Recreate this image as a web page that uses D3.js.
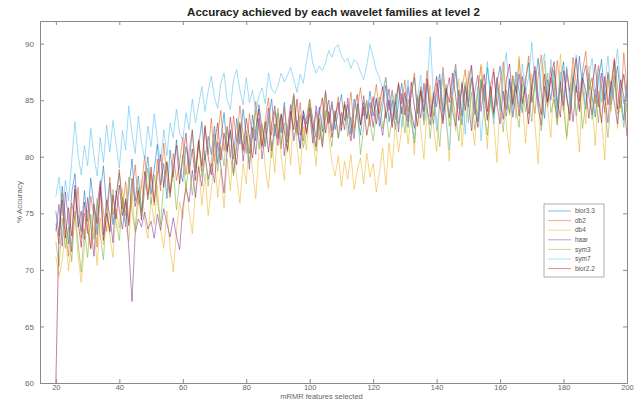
<!DOCTYPE html>
<html><head><meta charset="utf-8">
<script src="https://cdn.jsdelivr.net/npm/d3@7"></script>
<style>body{margin:0;background:#fff}svg{display:block}</style>
</head><body><svg id="c" width="639" height="400"></svg>
<script>
const title = "Accuracy achieved by each wavelet families at level 2";
const xLabel = "mRMR features selected";
const yLabel = "% Accuracy";
const xTicks = [20,40,60,80,100,120,140,160,180,200];
const yTicks = [60,65,70,75,80,85,90];
const seriesNames = ["bior3.3","db2","db4","haar","sym3","sym7","bior2.2"];
const seriesColors = ["#0072bd","#d95319","#edb120","#7e2f8e","#77ac30","#4dbeee","#a2142f"];
const features = d3.range(20, 201);

const bior33 = [75.2,73.0,77.4,74.6,72.3,76.8,78.5,74.9,73.4,77.0,
74.3,78.1,75.6,73.1,76.9,79.2,75.4,77.7,74.0,76.5,
78.6,75.9,73.8,77.2,79.8,76.1,78.3,75.2,77.9,80.0,
76.7,78.9,81.1,77.5,79.4,76.3,80.6,78.2,81.5,79.0,
77.8,80.9,79.3,82.4,78.6,81.0,83.1,79.7,81.8,80.2,
82.7,79.4,81.5,83.9,80.6,82.2,79.8,83.4,81.1,84.2,
82.0,80.3,83.7,81.4,84.6,82.5,80.9,83.2,85.1,81.8,
83.9,82.1,84.8,81.3,83.5,85.4,82.6,80.8,84.1,82.9,
85.0,83.3,81.7,84.4,82.2,85.7,83.0,84.9,82.4,84.0,
85.5,83.2,84.6,82.0,85.1,83.7,81.9,84.8,83.4,85.8,
83.6,85.2,82.7,84.5,86.3,83.1,85.0,82.4,84.8,86.5,
84.1,82.6,85.6,87.0,83.8,85.9,83.2,86.4,84.5,82.9,
85.8,87.3,84.0,86.1,83.5,85.4,87.6,84.7,82.8,86.2,
84.4,87.0,85.2,83.1,86.8,84.9,87.9,85.5,83.7,86.5,
88.0,85.3,83.6,86.7,84.5,87.5,85.8,83.9,86.9,88.3,
84.8,86.4,88.7,85.6,83.4,86.8,85.0,87.7,84.3,86.6,
88.4,85.1,83.8,87.2,85.7,88.9,86.0,84.2,87.4,85.3,
83.5,86.9,88.6,85.0,87.3,84.6,86.2,88.0,85.4,83.2,
86.5];
const db2 = [74.1,72.3,76.8,73.5,71.2,75.9,74.4,77.3,72.8,75.0,
73.2,76.5,74.7,72.0,77.6,75.1,73.4,78.2,74.9,76.3,
78.9,75.4,77.8,74.2,76.7,79.3,75.8,77.4,80.1,76.6,
78.5,75.7,79.8,77.0,81.2,78.1,76.4,80.3,77.9,79.5,
81.7,78.4,80.6,82.3,79.0,81.5,78.7,82.8,80.2,83.4,
79.6,81.9,84.1,80.5,82.7,79.9,83.6,81.3,84.5,82.0,
80.3,83.8,81.6,84.9,82.4,80.8,83.3,85.2,81.9,84.0,
82.6,80.7,84.4,81.8,83.9,85.6,82.1,84.8,81.4,83.5,
85.1,82.3,84.0,81.5,83.7,85.9,82.9,84.6,83.1,85.3,
82.8,84.9,83.4,85.7,82.5,84.2,86.1,83.6,85.0,82.7,
84.5,86.4,83.8,85.2,87.0,84.1,85.9,83.3,86.6,84.7,
86.8,84.0,85.5,87.4,83.9,86.2,84.8,87.6,85.1,83.6,
86.5,84.3,87.9,85.0,83.4,86.7,88.2,84.6,86.0,87.7,
84.9,86.9,83.7,85.8,88.0,85.4,83.2,86.3,87.8,84.5,
86.6,88.4,85.1,83.9,87.2,85.7,88.6,84.8,86.4,88.9,
85.5,83.8,87.1,89.0,86.0,84.4,87.9,85.3,88.5,86.2,
84.1,87.3,85.8,88.8,86.5,84.2,87.6,89.3,85.9,87.0,
84.7,88.1,86.3,83.9,87.5,85.6,88.7,86.1,84.3,89.2,
86.0];
const db4 = [71.2,69.4,70.8,73.5,69.9,72.6,74.8,71.3,68.9,72.1,
75.3,71.8,73.9,70.4,74.6,72.2,76.1,73.0,71.1,75.4,
73.7,77.2,74.1,72.5,76.8,73.3,75.9,78.0,74.4,72.8,
76.3,74.0,77.5,73.6,71.9,75.2,72.0,69.8,73.4,76.0,
74.5,77.8,75.1,73.2,76.9,79.3,75.7,78.5,74.8,77.1,
80.2,76.4,78.9,75.5,79.8,77.0,81.3,78.1,75.9,79.4,
77.6,81.9,78.7,76.3,80.5,82.8,79.0,77.2,81.4,78.6,
83.5,80.1,77.9,82.2,79.3,84.4,81.0,78.4,82.7,80.6,
84.9,81.6,79.2,83.3,80.8,85.2,82.0,79.5,78.3,80.1,
77.4,79.6,78.0,80.2,77.1,78.8,79.9,77.6,80.3,78.2,
79.4,76.9,78.6,80.8,77.5,81.2,79.0,83.1,80.4,82.5,
84.6,81.1,83.8,80.2,85.5,82.4,79.8,84.1,86.3,82.7,
80.5,84.8,87.0,83.2,79.6,85.7,82.3,86.9,80.9,84.0,
87.6,83.5,81.0,85.9,88.2,84.3,80.7,86.6,83.1,79.5,
84.7,87.8,82.6,80.3,86.0,83.4,88.9,85.1,81.2,84.9,
87.3,82.8,79.4,85.6,88.5,84.2,81.7,86.8,83.0,89.1,
85.3,81.5,84.6,87.9,83.7,80.4,86.3,82.9,88.0,84.5,
81.0,85.8,83.2,79.7,86.9,84.0,88.3,82.5,85.6,87.2,
83.9];
const haar = [73.4,75.8,72.1,76.9,74.3,71.6,77.5,73.8,75.2,72.7,
76.4,74.0,71.2,75.6,77.9,73.1,76.2,74.8,72.4,77.0,
75.3,73.6,76.1,71.8,67.2,73.2,74.5,73.8,75.1,73.6,
74.3,72.8,74.9,73.5,75.4,74.1,72.9,74.6,73.0,71.8,
75.5,77.2,76.0,78.8,76.4,79.1,77.4,80.2,78.0,79.4,
77.7,81.3,79.1,76.8,80.7,82.4,78.5,80.9,83.0,79.6,
81.8,78.9,82.6,80.2,83.4,79.8,82.1,84.3,80.5,82.9,
81.0,83.7,80.1,82.5,84.6,81.4,83.2,80.7,84.0,82.2,
83.8,81.2,84.5,82.7,80.9,83.6,85.0,82.3,84.1,81.7,
83.9,82.4,85.2,83.0,81.6,84.7,82.8,85.4,83.3,84.8,
82.6,85.1,83.5,81.9,84.3,86.0,83.1,84.9,82.2,85.6,
83.7,86.2,84.0,82.5,85.3,83.4,86.5,84.2,82.8,85.7,
84.4,86.8,83.2,85.5,87.0,84.1,82.7,85.9,83.6,86.3,
84.8,82.3,85.7,87.2,84.0,86.4,83.3,85.1,87.5,84.6,
82.9,85.8,84.2,86.9,83.5,85.4,87.3,84.7,86.1,83.8,
85.9,87.6,84.3,82.8,86.2,84.9,87.0,85.2,83.4,86.6,
84.5,87.8,85.6,83.1,86.3,84.0,86.9,88.1,85.3,83.7,
86.0,84.4,87.4,85.2,83.0,86.7,84.8,82.9,85.9,87.3,
85.0];
const sym3 = [72.5,70.3,74.6,71.9,73.8,70.7,75.2,72.4,69.8,73.6,
71.1,74.9,72.7,76.3,73.0,70.9,75.5,73.3,77.1,74.2,
72.6,76.4,74.8,78.2,75.1,73.5,77.3,74.7,76.9,79.0,
75.8,78.4,76.2,74.0,77.7,79.6,76.5,78.8,75.3,77.9,
80.2,77.1,79.4,76.6,78.9,81.3,78.2,80.5,77.4,79.7,
82.0,78.7,80.9,79.2,82.6,80.0,78.3,81.7,83.1,80.4,
82.3,79.5,81.8,84.0,80.7,82.9,81.2,83.6,79.9,82.4,
84.3,81.1,83.0,80.4,82.8,85.0,81.9,83.7,80.8,82.2,
84.6,82.0,80.5,83.4,81.3,84.1,82.7,80.9,83.9,81.6,
82.9,84.7,81.8,83.5,82.1,84.4,80.2,82.6,84.8,83.1,
81.4,83.8,85.3,82.5,84.0,81.7,83.2,85.6,82.9,84.4,
82.1,85.1,83.5,81.2,84.7,86.0,82.8,84.3,81.6,85.4,
83.3,80.9,84.9,86.4,82.7,85.2,83.6,81.4,84.6,86.6,
83.0,85.7,82.4,84.1,86.9,83.8,81.9,85.0,83.4,86.2,
84.5,82.2,85.9,83.7,87.1,84.3,82.6,86.4,84.0,85.5,
83.1,86.7,84.8,82.3,85.6,87.4,83.9,85.1,82.8,86.0,
84.2,81.8,85.4,87.0,83.6,85.8,82.5,84.7,86.8,83.3,
85.5,83.0,86.3,84.1,81.7,85.0,87.2,83.8,84.9,82.6,
84.8];
const sym7 = [76.5,78.2,74.8,77.9,76.1,79.6,83.1,80.2,78.4,81.0,
79.2,82.5,80.1,78.3,81.7,79.5,82.8,80.4,83.2,81.1,
79.0,82.3,80.6,84.5,82.0,80.3,83.6,81.2,79.8,82.7,
80.9,83.8,81.5,79.6,82.4,80.1,83.0,81.7,84.2,82.1,
81.5,83.9,82.4,85.1,83.0,84.6,86.2,84.0,85.8,87.1,
85.2,84.3,86.5,87.4,85.0,84.2,86.8,87.7,85.9,84.6,
87.0,84.8,85.9,83.9,85.4,86.1,84.7,87.4,86.0,85.6,
86.3,87.4,86.6,87.2,87.9,86.8,85.7,87.3,86.5,88.4,
90.1,88.2,87.4,88.0,87.6,88.3,89.4,88.8,89.6,89.9,
88.9,88.4,88.7,87.8,88.6,88.3,87.5,86.8,88.1,89.9,
88.8,87.6,87.0,85.9,87.0,84.2,85.8,83.5,86.4,82.6,
84.9,86.8,83.1,81.5,85.3,87.2,84.0,86.1,90.6,85.2,
82.3,84.7,87.5,83.4,80.6,85.9,88.1,84.2,86.7,82.0,
85.4,87.9,83.7,86.2,81.4,84.8,88.4,85.1,82.9,86.5,
84.1,87.3,89.2,85.0,83.6,86.9,84.4,88.2,85.7,87.0,
90.1,86.3,84.5,87.8,89.1,85.4,88.6,86.0,83.9,87.5,
85.2,88.0,84.6,86.8,89.0,85.9,87.4,84.3,86.9,88.7,
85.6,87.9,84.8,86.4,88.9,85.3,87.2,89.5,86.1,84.7,
86.2];
const bior22 = [60.0,73.6,76.2,72.8,75.5,73.0,77.1,74.3,72.0,76.0,
73.7,71.9,75.8,74.1,77.3,72.6,75.0,73.4,76.6,74.5,
77.5,74.8,76.3,73.9,78.1,75.6,77.0,74.4,78.7,76.2,
79.1,76.0,78.4,80.2,77.3,79.5,76.8,78.9,81.0,77.6,
79.8,82.1,78.5,80.7,77.9,81.4,79.2,82.6,80.0,78.4,
81.2,83.0,79.7,82.1,80.4,83.5,81.0,79.3,82.8,80.6,
83.4,81.7,79.9,82.5,84.2,81.0,83.1,80.4,82.9,84.5,
81.6,83.8,82.2,80.6,84.0,82.4,85.1,81.9,83.6,82.0,
84.3,82.5,80.9,83.8,85.2,82.1,84.0,81.7,83.5,84.8,
82.3,84.6,83.0,81.4,84.2,85.5,82.8,84.4,81.9,83.7,
85.3,82.9,84.7,86.2,83.4,85.0,82.6,84.9,86.4,83.8,
85.7,83.1,86.6,84.4,82.7,85.8,84.0,86.9,83.5,85.2,
87.1,84.6,82.9,86.0,84.8,87.4,85.3,83.2,86.5,84.1,
86.7,88.1,84.5,82.6,85.9,87.3,84.0,86.2,83.9,87.0,
85.1,83.3,86.8,88.2,84.7,86.3,83.6,87.1,85.4,82.9,
86.4,88.0,85.2,83.7,87.3,84.8,86.9,88.4,85.0,83.5,
87.6,85.5,83.2,86.6,88.7,84.9,87.0,85.8,83.4,86.1,
88.2,85.1,83.0,87.1,84.6,86.4,88.5,84.2,86.8,85.3,
81.8];
const seriesValues = [bior33, db2, db4, haar, sym3, sym7, bior22];

const svg = d3.select("#c");
const m = {l:40, r:627, t:21, b:383};
const x = d3.scaleLinear().domain([15,200]).range([m.l, m.r]);
const y = d3.scaleLinear().domain([60,92]).range([m.b, m.t]);

const defs = svg.append("defs");
defs.append("clipPath").attr("id","clip")
  .append("rect").attr("x",m.l).attr("y",m.t).attr("width",m.r-m.l).attr("height",m.b-m.t);
defs.append("filter").attr("id","soft").attr("x","-2%").attr("y","-2%").attr("width","104%").attr("height","104%")
  .append("feGaussianBlur").attr("stdDeviation",0.35);

// lines
const line = d3.line().x((d,i)=>x(features[i])).y(d=>y(d));
const g = svg.append("g").attr("clip-path","url(#clip)").append("g").attr("filter","url(#soft)");
seriesValues.forEach((vals,k)=>{
  g.append("path").datum(vals).attr("d",line)
    .attr("fill","none").attr("stroke",seriesColors[k])
    .attr("stroke-width",0.9).attr("stroke-opacity",0.6)
    .attr("stroke-linejoin","round");
});

// axes (box with inward ticks on all sides)
const axisColor = "#8a8a8a";
const font = "Liberation Sans, Arial, sans-serif";
const axB = d3.axisBottom(x).tickValues(xTicks).tickSizeInner(-4).tickSizeOuter(0).tickPadding(1.5);
const axT = d3.axisTop(x).tickValues(xTicks).tickSizeInner(-4).tickSizeOuter(0).tickFormat("");
const axL = d3.axisLeft(y).tickValues(yTicks).tickSizeInner(-4).tickSizeOuter(0).tickPadding(6);
const axR = d3.axisRight(y).tickValues(yTicks).tickSizeInner(-4).tickSizeOuter(0).tickFormat("");
const gb = svg.append("g").attr("transform",`translate(0,${m.b})`).call(axB);
const gt = svg.append("g").attr("transform",`translate(0,${m.t})`).call(axT);
const gl = svg.append("g").attr("transform",`translate(${m.l},0)`).call(axL);
const gr = svg.append("g").attr("transform",`translate(${m.r},0)`).call(axR);
[gb,gt,gl,gr].forEach(a=>{
  a.select(".domain").attr("stroke",axisColor);
  a.selectAll(".tick line").attr("stroke",axisColor);
  a.selectAll(".tick text").attr("fill","#666").attr("font-size",8).attr("font-family",font);
});
gb.selectAll(".tick text").attr("font-size",7.5);

// title & labels
svg.append("text").attr("x",(m.l+m.r)/2).attr("y",16).attr("text-anchor","middle")
  .attr("font-family",font).attr("font-weight","bold").attr("font-size",11.5).attr("fill","#222")
  .text(title);
svg.append("text").attr("x",(m.l+m.r)/2 - 12).attr("y",398.5).attr("text-anchor","middle")
  .attr("font-family",font).attr("font-size",7.5).attr("fill","#666").text(xLabel);
svg.append("text").attr("transform",`translate(22,${(m.t+m.b)/2}) rotate(-90)`).attr("text-anchor","middle")
  .attr("font-family",font).attr("font-size",8).attr("fill","#666").text(yLabel);

// legend
const lg = svg.append("g");
lg.append("rect").attr("x",544).attr("y",204).attr("width",60).attr("height",73)
  .attr("fill","#fff").attr("stroke","#999").attr("stroke-width",0.8);
seriesNames.forEach((n,i)=>{
  const yy = 211 + i*9.6;
  lg.append("line").attr("x1",548).attr("x2",571).attr("y1",yy).attr("y2",yy)
    .attr("stroke",seriesColors[i]).attr("stroke-width",0.8).attr("stroke-opacity",0.6);
  lg.append("text").attr("x",575).attr("y",yy+2.2).attr("font-size",6.5)
    .attr("font-family",font).attr("fill","#555").text(n);
});
</script></body></html>
